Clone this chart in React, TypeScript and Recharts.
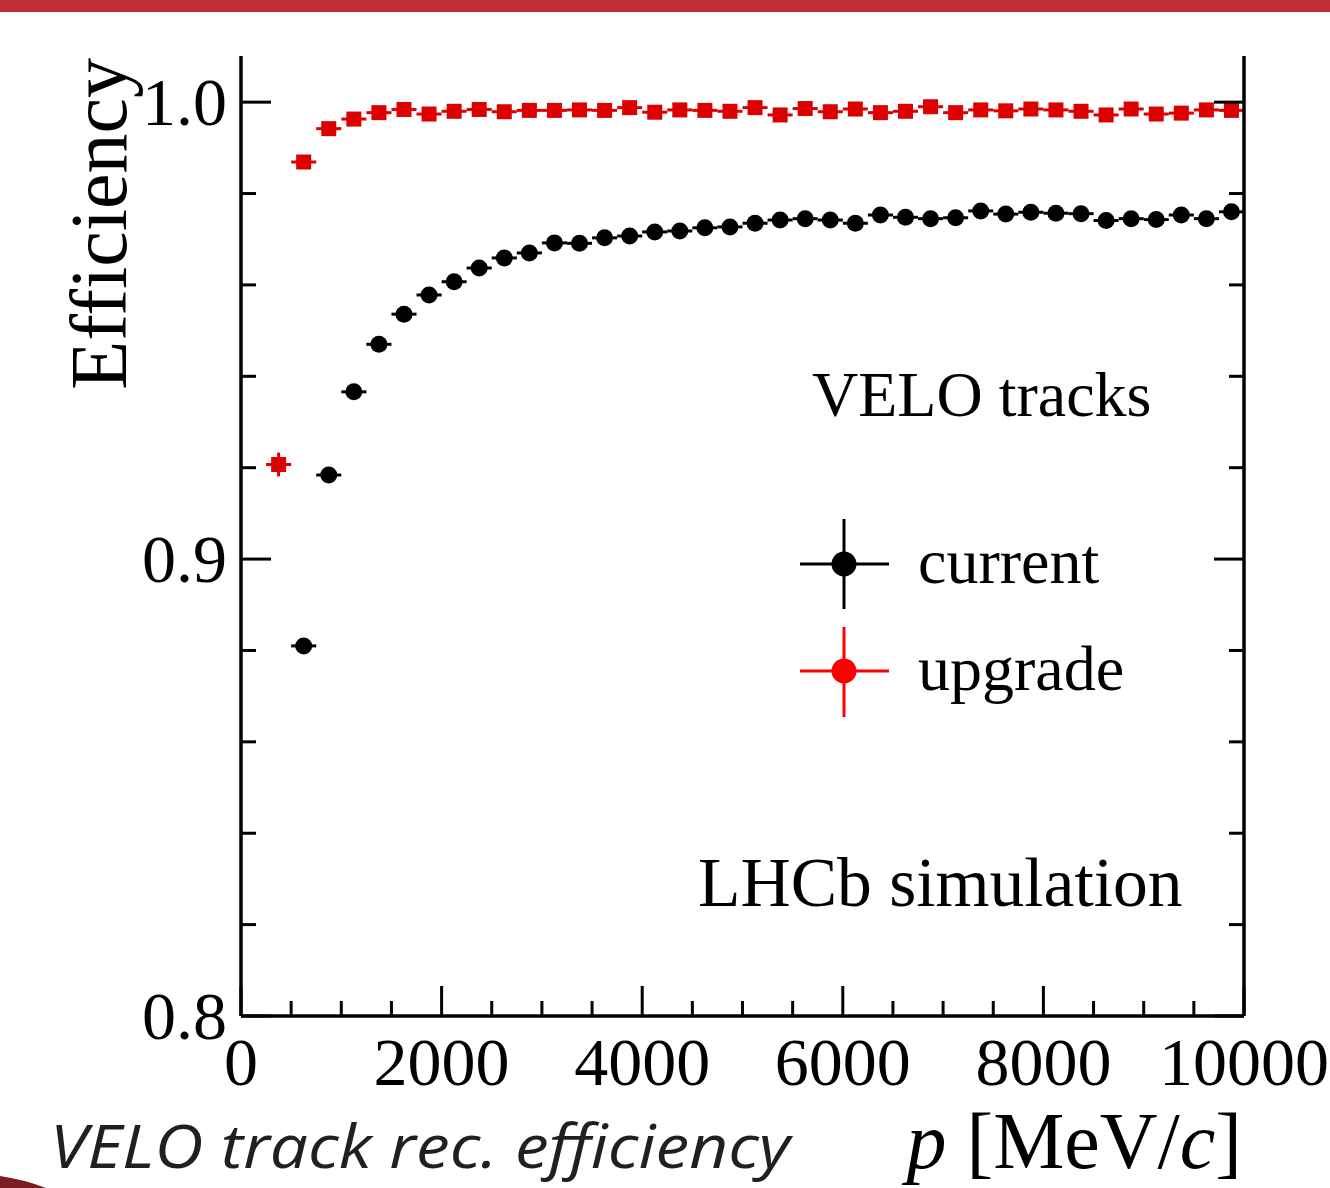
import React from "react";
import { ScatterChart, Scatter, XAxis, YAxis, ErrorBar } from "recharts";

// bin centres in MeV/c (bin width 250)
const pBins = [
  375, 625, 875, 1125, 1375, 1625, 1875, 2125, 2375, 2625, 2875, 3125, 3375,
  3625, 3875, 4125, 4375, 4625, 4875, 5125, 5375, 5625, 5875, 6125, 6375,
  6625, 6875, 7125, 7375, 7625, 7875, 8125, 8375, 8625, 8875, 9125, 9375,
  9625, 9875,
];
const binHalfWidth = 125;

const upgradeEff = [
  0.9207, 0.9869, 0.9942, 0.9963, 0.9977, 0.9984, 0.9974, 0.998, 0.9984,
  0.9979, 0.9982, 0.9982, 0.9983, 0.9982, 0.9988, 0.9978, 0.9983, 0.9982,
  0.998, 0.9988, 0.9972, 0.9986, 0.9979, 0.9985, 0.9977, 0.998, 0.999,
  0.9977, 0.9983, 0.9981, 0.9985, 0.9983, 0.998, 0.9972, 0.9985, 0.9974,
  0.9976, 0.9983, 0.9982,
];
const upgradeErr = [
  0.0026, 0.001, 0.0007, 0.0006, 0.0005, 0.0004, 0.0004, 0.0004, 0.0004,
  0.0004, 0.0004, 0.0004, 0.0004, 0.0004, 0.0004, 0.0004, 0.0004, 0.0004,
  0.0004, 0.0004, 0.0004, 0.0004, 0.0004, 0.0004, 0.0004, 0.0004, 0.0004,
  0.0004, 0.0004, 0.0004, 0.0004, 0.0004, 0.0004, 0.0004, 0.0004, 0.0004,
  0.0004, 0.0004, 0.0004,
];

const currentEff = [
  null, 0.881, 0.9184, 0.9366, 0.947, 0.9536, 0.9578, 0.9607, 0.9637, 0.9659,
  0.967, 0.9692, 0.9691, 0.9703, 0.9707, 0.9716, 0.9718, 0.9725, 0.9727,
  0.9735, 0.9742, 0.9745, 0.9742, 0.9735, 0.9753, 0.9748, 0.9745, 0.9747,
  0.9762, 0.9755, 0.9759, 0.9757, 0.9756, 0.9741, 0.9745, 0.9743, 0.9753,
  0.9745, 0.976,
];
const currentErr = [
  null, 0.0015, 0.0012, 0.001, 0.0009, 0.0008, 0.0007, 0.0007, 0.0006,
  0.0006, 0.0006, 0.0006, 0.0006, 0.0006, 0.0006, 0.0006, 0.0006, 0.0006,
  0.0006, 0.0006, 0.0006, 0.0006, 0.0006, 0.0006, 0.0006, 0.0006, 0.0006,
  0.0006, 0.0006, 0.0006, 0.0006, 0.0006, 0.0006, 0.0006, 0.0006, 0.0006,
  0.0006, 0.0006, 0.0006,
];

const xTicks = [
  0, 500, 1000, 1500, 2000, 2500, 3000, 3500, 4000, 4500, 5000, 5500, 6000,
  6500, 7000, 7500, 8000, 8500, 9000, 9500, 10000,
];
const xMajor = [0, 2000, 4000, 6000, 8000, 10000];
const yTicks = [
  0.8, 0.82, 0.84, 0.86, 0.88, 0.9, 0.92, 0.94, 0.96, 0.98, 1.0,
];
const yMajor = [0.8, 0.9, 1.0];
const yLabels = ["0.8", "0.9", "1.0"];

const seriesNames = ["current", "upgrade"];

const upgradeData = pBins.map((p, i) => ({
  p,
  eff: upgradeEff[i],
  ex: binHalfWidth,
  ey: upgradeErr[i],
}));
const currentData = pBins
  .map((p, i) => ({ p, eff: currentEff[i], ex: binHalfWidth, ey: currentErr[i] }))
  .filter((d) => d.eff !== null);

const SERIF = "'Liberation Serif', 'Times New Roman', serif";
const RED = "#dd0000";
const frame = { stroke: "#000", strokeWidth: 3.5 };

const isMajor = (v: number, list: number[]) =>
  list.some((m) => Math.abs(m - v) < 1e-6);

const XTick = (props: any) => {
  const { x, y, payload, side } = props;
  const major = isMajor(payload.value, xMajor);
  const len = major ? 30 : 15;
  const dir = side === "bottom" ? -1 : 1;
  return (
    <g>
      <line x1={x} y1={y} x2={x} y2={y + dir * len} stroke="#000" strokeWidth={3} />
      {side === "bottom" && major && (
        <text x={x} y={y + 69} textAnchor="middle" fontFamily={SERIF} fontSize={68} fill="#000">
          {String(payload.value)}
        </text>
      )}
    </g>
  );
};

const YTick = (props: any) => {
  const { x, y, payload, side } = props;
  const major = isMajor(payload.value, yMajor);
  const len = major ? 30 : 15;
  const dir = side === "left" ? 1 : -1;
  const idx = yMajor.findIndex((m) => Math.abs(m - payload.value) < 1e-6);
  return (
    <g>
      <line x1={x} y1={y} x2={x + dir * len} y2={y} stroke="#000" strokeWidth={3} />
      {side === "left" && major && (
        <text x={x - 14} y={y + 23} textAnchor="end" fontFamily={SERIF} fontSize={68} fill="#000">
          {yLabels[idx]}
        </text>
      )}
    </g>
  );
};

const Dot = (props: any) => <circle cx={props.cx} cy={props.cy} r={8.5} fill="#000" />;
const Sq = (props: any) => (
  <rect x={props.cx - 7.5} y={props.cy - 7.5} width={15} height={15} fill={RED} />
);

export default function App() {
  return (
    <div style={{ position: "absolute", left: 0, top: 0, width: 1330, height: 1188, background: "#fff" }}>
      <ScatterChart width={1330} height={1188} margin={{ top: 56, right: 0, bottom: 0, left: 0 }}>
        <XAxis
          xAxisId="b"
          type="number"
          dataKey="p"
          orientation="bottom"
          domain={[0, 10000]}
          ticks={xTicks}
          interval={0}
          height={172}
          tickSize={0}
          tickMargin={0}
          tickLine={false}
          axisLine={frame}
          allowDataOverflow
          tick={<XTick side="bottom" />}
        />
        <XAxis
          xAxisId="t"
          type="number"
          orientation="top"
          domain={[0, 10000]}
          ticks={xTicks}
          interval={0}
          height={0}
          tickSize={0}
          tickMargin={0}
          tickLine={false}
          axisLine={frame}
          allowDataOverflow
          tick={<XTick side="top" />}
        />
        <YAxis
          yAxisId="l"
          type="number"
          dataKey="eff"
          orientation="left"
          domain={[0.8, 1.0101]}
          ticks={yTicks}
          interval={0}
          width={241}
          tickSize={0}
          tickMargin={0}
          tickLine={false}
          axisLine={frame}
          allowDataOverflow
          tick={<YTick side="left" />}
        />
        <YAxis
          yAxisId="r"
          type="number"
          orientation="right"
          domain={[0.8, 1.0101]}
          ticks={yTicks}
          interval={0}
          width={86}
          tickSize={0}
          tickMargin={0}
          tickLine={false}
          axisLine={frame}
          allowDataOverflow
          tick={<YTick side="right" />}
        />
        <Scatter
          name={seriesNames[0]}
          xAxisId="b"
          yAxisId="l"
          data={currentData}
          dataKey="eff"
          shape={Dot}
          isAnimationActive={false}
        >
          <ErrorBar dataKey="ex" direction="x" width={0} stroke="#000" strokeWidth={3} />
          <ErrorBar dataKey="ey" direction="y" width={0} stroke="#000" strokeWidth={3} />
        </Scatter>
        <Scatter
          name={seriesNames[1]}
          xAxisId="b"
          yAxisId="l"
          data={upgradeData}
          dataKey="eff"
          shape={Sq}
          isAnimationActive={false}
        >
          <ErrorBar dataKey="ex" direction="x" width={0} stroke={RED} strokeWidth={3} />
          <ErrorBar dataKey="ey" direction="y" width={0} stroke={RED} strokeWidth={3} />
        </Scatter>
      </ScatterChart>

      <svg
        width={1330}
        height={1188}
        style={{ position: "absolute", left: 0, top: 0, pointerEvents: "none" }}
      >
        <rect x={0} y={0} width={1330} height={12} fill="#c32d37" />
        <path d="M0,1176 Q22,1179 46,1188 L0,1188 Z" fill="#7a1c22" />

        <text x={126} y={58} transform="rotate(-90 126 58)" textAnchor="end" fontFamily={SERIF} fontSize={80} fill="#000">
          Efficiency
        </text>
        <text x={1242} y={1168} textAnchor="end" fontFamily={SERIF} fontSize={80} fill="#000">
          <tspan fontStyle="italic">p</tspan>
          <tspan>{" [MeV/"}</tspan>
          <tspan fontStyle="italic">c</tspan>
          <tspan>]</tspan>
        </text>

        <text x={812} y={416} fontFamily={SERIF} fontSize={64} fill="#000">
          VELO tracks
        </text>
        <text x={698} y={906} fontFamily={SERIF} fontSize={69.5} fill="#000">
          LHCb simulation
        </text>

        {/* legend */}
        <g stroke="#000" strokeWidth={3}>
          <line x1={800} y1={564} x2={889} y2={564} />
          <line x1={844} y1={519} x2={844} y2={609} />
        </g>
        <circle cx={844} cy={564} r={12.5} fill="#000" />
        <text x={918} y={583} fontFamily={SERIF} fontSize={64} fill="#000">
          {seriesNames[0]}
        </text>
        <g stroke="#ff0000" strokeWidth={3}>
          <line x1={800} y1={671} x2={889} y2={671} />
          <line x1={844} y1={627} x2={844} y2={717} />
        </g>
        <circle cx={844} cy={671} r={12.5} fill="#ff0000" />
        <text x={918} y={690} fontFamily={SERIF} fontSize={64} fill="#000">
          {seriesNames[1]}
        </text>

        <text x={50} y={1168} fontFamily="'Open Sans', sans-serif" fontStyle="italic" fontSize={60} textLength={740} lengthAdjust="spacingAndGlyphs" fill="#231f20">
          VELO track rec. efficiency
        </text>
      </svg>
    </div>
  );
}
